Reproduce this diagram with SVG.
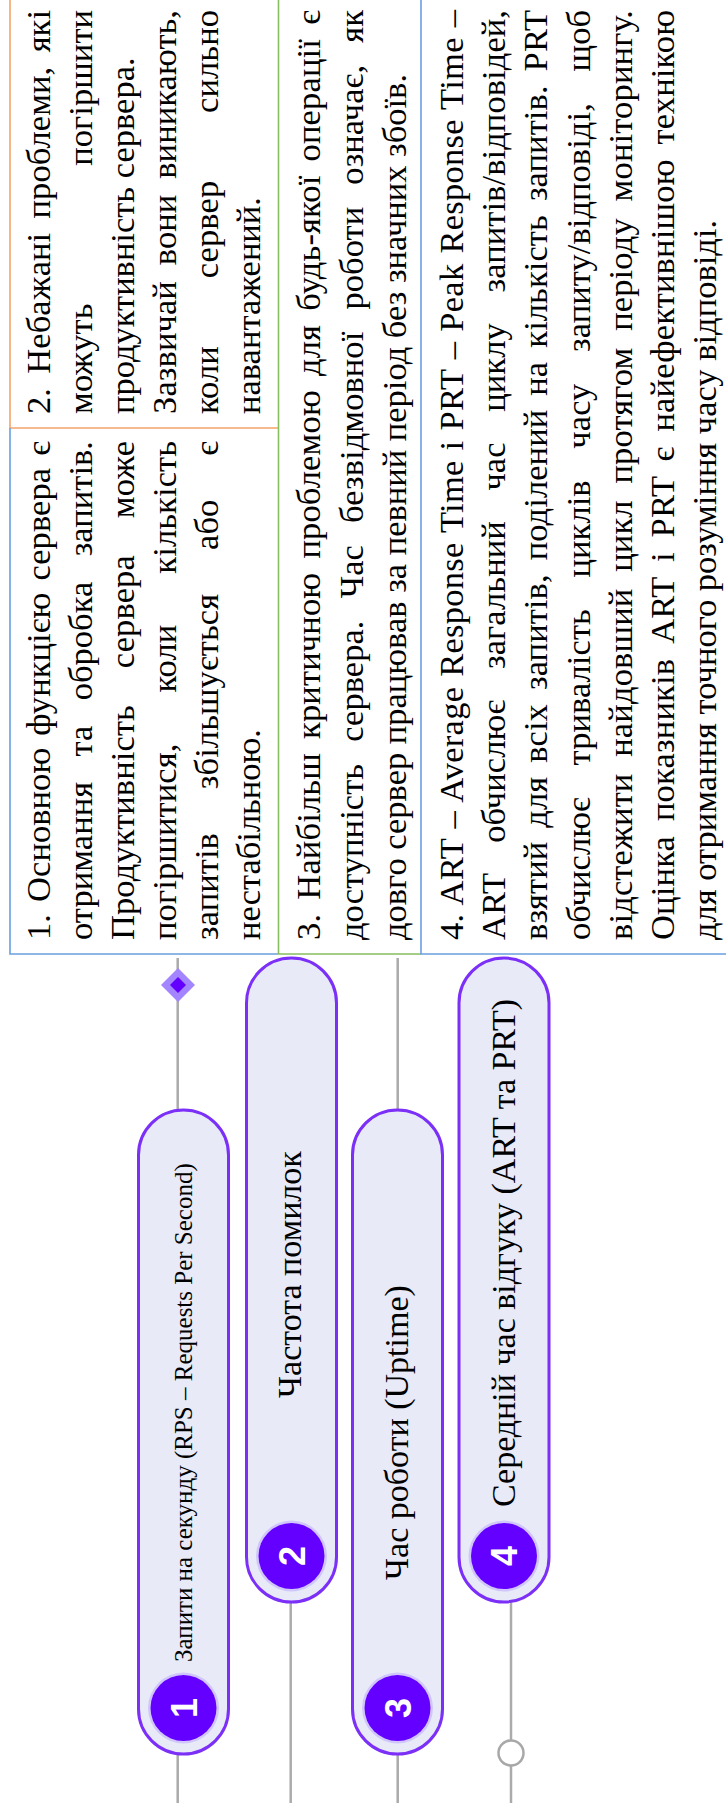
<svg xmlns="http://www.w3.org/2000/svg" width="726" height="1814" viewBox="0 0 726 1814">
<style>
.t{font-family:"Liberation Serif","Times New Roman",serif;font-size:34.5px;fill:#000}
.pl{fill:#e8eaf8;stroke:#7b2ff7;stroke-width:3}
.nc{fill:#6400ff}
.halo{fill:#b69cff;opacity:.45}
.num{font-family:"Liberation Sans",Arial,sans-serif;font-weight:bold;font-size:36px;fill:#fff;text-anchor:middle}
.lbl{font-family:"Liberation Serif","Times New Roman",serif;fill:#000}
.g{stroke:#ababab;stroke-width:2.5;fill:none}
.bo{stroke:#f4a46a;stroke-width:1.6;fill:none}
.bb{stroke:#6a9fe0;stroke-width:1.6;fill:none}
.bg{stroke:#86bf5e;stroke-width:1.6;fill:none}
</style>
<rect width="726" height="1814" fill="#fff"/>
<g id="table">
  <path class="bo" d="M10,-2 V428 H278"/>
  <path class="bb" d="M10,428 V954 H278"/>
  <path class="bg" d="M278.5,-2 V954 M278,954 H421"/>
  <path class="bb" d="M421,-2 V954 H728"/>
  <g id="cell1" class="t" transform="rotate(-90)">
    <text x="-940" y="50" word-spacing="3.3" textLength="499" lengthAdjust="spacing">1. Основною функцією сервера є</text>
    <text x="-940" y="92" word-spacing="16.6" textLength="499" lengthAdjust="spacing">отримання та обробка запитів.</text>
    <text x="-940" y="134" word-spacing="28.2" textLength="499" lengthAdjust="spacing">Продуктивність сервера може</text>
    <text x="-940" y="176" word-spacing="42.3" textLength="499" lengthAdjust="spacing">погіршитися, коли кількість</text>
    <text x="-940" y="218" word-spacing="35.1" textLength="499" lengthAdjust="spacing">запитів збільшується або є</text>
    <text x="-940" y="260">нестабільною.</text>
  </g>
  <g id="cell2" class="t" transform="rotate(-90)">
    <text x="-414" y="50" word-spacing="5.7" textLength="404" lengthAdjust="spacing">2. Небажані проблеми, які</text>
    <text x="-414" y="92" word-spacing="129" textLength="404" lengthAdjust="spacing">можуть погіршити</text>
    <text x="-414" y="134">продуктивність сервера.</text>
    <text x="-414" y="176" word-spacing="7.2" textLength="404" lengthAdjust="spacing">Зазвичай вони виникають,</text>
    <text x="-414" y="218" word-spacing="59" textLength="404" lengthAdjust="spacing">коли сервер сильно</text>
    <text x="-414" y="260">навантажений.</text>
  </g>
  <g id="cell3" class="t" transform="rotate(-90)">
    <text x="-940" y="320" word-spacing="5.4" textLength="930" lengthAdjust="spacing">3. Найбільш критичною проблемою для будь-якої операції є</text>
    <text x="-940" y="363" word-spacing="13.5" textLength="930" lengthAdjust="spacing">доступність сервера. Час безвідмовної роботи означає, як</text>
    <text x="-940" y="406">довго сервер працював за певний період без значних збоїв.</text>
  </g>
  <g id="cell4" class="t" transform="rotate(-90)">
    <text x="-940" y="463" word-spacing="1.1" textLength="930" lengthAdjust="spacing">4. ART – Average Response Time і PRT – Peak Response Time –</text>
    <text x="-940" y="505.2" word-spacing="21.9" textLength="930" lengthAdjust="spacing">ART обчислює загальний час циклу запитів/відповідей,</text>
    <text x="-940" y="547.4" word-spacing="5.3" textLength="930" lengthAdjust="spacing">взятий для всіх запитів, поділений на кількість запитів. PRT</text>
    <text x="-940" y="589.6" word-spacing="23" textLength="930" lengthAdjust="spacing">обчислює тривалість циклів часу запиту/відповіді, щоб</text>
    <text x="-940" y="631.8" word-spacing="8" textLength="930" lengthAdjust="spacing">відстежити найдовший цикл протягом періоду моніторингу.</text>
    <text x="-940" y="674" word-spacing="6.1" textLength="930" lengthAdjust="spacing">Оцінка показників ART і PRT є найефективнішою технікою</text>
    <text x="-940" y="716.2">для отримання точного розуміння часу відповіді.</text>
  </g>
</g>
<g id="connectors">
  <path class="g" d="M177.7,958 V1110 M177.7,1754 V1803"/>
  <path class="g" d="M290.7,1602 V1803"/>
  <path class="g" d="M397.7,958 V1110 M397.7,1754 V1803"/>
  <path class="g" d="M511,1602 V1740.5 M511,1765.5 V1803"/>
  <polygon points="178,968 195,985 178,1002 161,985" fill="#a385ff"/>
  <polygon points="178,977 186,985 178,993 170,985" fill="#6400ff"/>
  <circle cx="511" cy="1753" r="12.5" fill="#fff" stroke="#a8a8a8" stroke-width="2.5"/>
</g>
<g id="node1">
  <rect class="pl" x="138.5" y="1110" width="90" height="644" rx="45"/>
  <circle class="halo" cx="183.5" cy="1708" r="35.5"/>
  <circle class="nc" cx="183.5" cy="1708" r="33"/>
  <text class="num" transform="translate(183.5,1708) rotate(-90)" y="13">1</text>
  <text class="lbl" font-size="25" transform="translate(192,1662) rotate(-90)">Запити на секунду (RPS – Requests Per Second)</text>
</g>
<g id="node2">
  <rect class="pl" x="246.5" y="958" width="90" height="644" rx="45"/>
  <circle class="halo" cx="291.5" cy="1556" r="35.5"/>
  <circle class="nc" cx="291.5" cy="1556" r="33"/>
  <text class="num" transform="translate(291.5,1556) rotate(-90)" y="13">2</text>
  <text class="lbl" font-size="34" transform="translate(301,1398) rotate(-90)">Частота  помилок</text>
</g>
<g id="node3">
  <rect class="pl" x="352.5" y="1110" width="90" height="644" rx="45"/>
  <circle class="halo" cx="397.5" cy="1708" r="35.5"/>
  <circle class="nc" cx="397.5" cy="1708" r="33"/>
  <text class="num" transform="translate(397.5,1708) rotate(-90)" y="13">3</text>
  <text class="lbl" font-size="34" transform="translate(408,1580) rotate(-90)">Час  роботи (Uptime)</text>
</g>
<g id="node4">
  <rect class="pl" x="459" y="958" width="90" height="644" rx="45"/>
  <circle class="halo" cx="504" cy="1556" r="35.5"/>
  <circle class="nc" cx="504" cy="1556" r="33"/>
  <text class="num" transform="translate(504,1556) rotate(-90)" y="13">4</text>
  <text class="lbl" font-size="34" transform="translate(515,1507) rotate(-90)">Середній час відгуку (ART та PRT)</text>
</g>
</svg>
